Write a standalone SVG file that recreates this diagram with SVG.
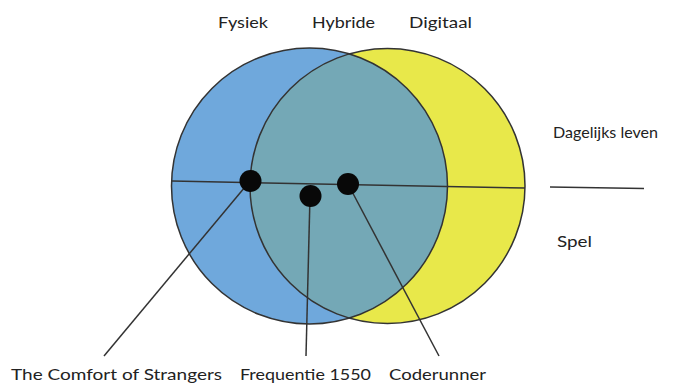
<svg xmlns="http://www.w3.org/2000/svg" width="673" height="385" viewBox="0 0 673 385">
  <style>
    .label { font-family: "Lato", "Open Sans", sans-serif; font-size: 16px; fill: #222; }
    .edge { stroke: #333; stroke-width: 1.5; fill: none; }
    .dot { fill: #080808; }
    .ring { fill: none; stroke: #333; stroke-width: 1.5; }
  </style>
  <defs>
    <clipPath id="clip-digital">
      <circle cx="387.5" cy="186" r="137.5"/>
    </clipPath>
  </defs>
  <rect width="673" height="385" fill="#ffffff"/>

  <!-- Venn circles -->
  <g id="circle-fysiek">
    <circle cx="309.5" cy="186" r="138" fill="#6FA8DC"/>
  </g>
  <g id="circle-digitaal">
    <circle cx="387.5" cy="186" r="137.5" fill="#E8E84A"/>
  </g>
  <g id="overlap-hybride">
    <circle cx="309.5" cy="186" r="138" fill="#74A8B6" clip-path="url(#clip-digital)"/>
    <circle class="ring" cx="309.5" cy="186" r="138"/>
    <circle class="ring" cx="387.5" cy="186" r="137.5"/>
  </g>

  <!-- connectors -->
  <g id="connectors">
    <line class="edge" x1="172" y1="181" x2="525" y2="188"/>
    <line class="edge" x1="550" y1="187" x2="644" y2="188.5"/>
    <line class="edge" x1="250" y1="181" x2="104" y2="356"/>
    <line class="edge" x1="310" y1="196" x2="306" y2="356"/>
    <line class="edge" x1="348" y1="184" x2="439" y2="356"/>
  </g>

  <!-- markers -->
  <g id="dot-comfort"><circle class="dot" cx="250.5" cy="181" r="11"/></g>
  <g id="dot-frequentie"><circle class="dot" cx="310.5" cy="196" r="11"/></g>
  <g id="dot-coderunner"><circle class="dot" cx="348" cy="184" r="11"/></g>

  <!-- labels -->
  <g id="label-fysiek"><text class="label" x="218" y="28" textLength="50" lengthAdjust="spacingAndGlyphs">Fysiek</text></g>
  <g id="label-hybride"><text class="label" x="312" y="28" textLength="63" lengthAdjust="spacingAndGlyphs">Hybride</text></g>
  <g id="label-digitaal"><text class="label" x="409" y="28" textLength="63" lengthAdjust="spacingAndGlyphs">Digitaal</text></g>
  <g id="label-dagelijks"><text class="label" x="553" y="138" textLength="105" lengthAdjust="spacingAndGlyphs">Dagelijks leven</text></g>
  <g id="label-spel"><text class="label" x="557" y="247" textLength="35" lengthAdjust="spacingAndGlyphs">Spel</text></g>
  <g id="label-comfort"><text class="label" x="11" y="380" textLength="211" lengthAdjust="spacingAndGlyphs">The Comfort of Strangers</text></g>
  <g id="label-frequentie"><text class="label" x="240" y="380" textLength="131" lengthAdjust="spacingAndGlyphs">Frequentie 1550</text></g>
  <g id="label-coderunner"><text class="label" x="389" y="380" textLength="97" lengthAdjust="spacingAndGlyphs">Coderunner</text></g>
</svg>
